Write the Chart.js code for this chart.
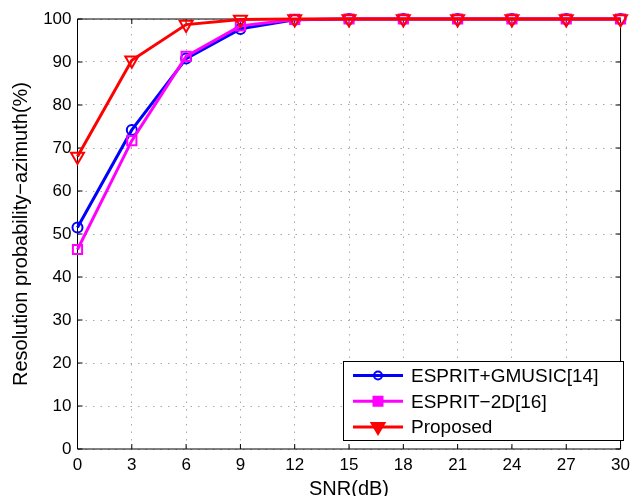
<!DOCTYPE html>
<html>
<head>
<meta charset="utf-8">
<script src="https://cdn.jsdelivr.net/npm/chart.js@4/dist/chart.umd.min.js"></script>
<style>
  html, body { margin: 0; background: #fff; }
  #wrap { width: 636px; height: 496px; }
</style>
</head>
<body>
<div id="wrap"><canvas id="chart"></canvas></div>
<script>
const snr = [0, 3, 6, 9, 12, 15, 18, 21, 24, 27, 30];
const espritGmusic = [51.5, 74.2, 90.8, 97.7, 99.8, 100, 100, 100, 100, 100, 100];
const esprit2d = [46.4, 71.7, 91.3, 98.4, 99.9, 100, 100, 100, 100, 100, 100];
const proposed = [68.0, 90.4, 98.7, 99.9, 100, 100, 100, 100, 100, 100, 100];
const seriesNames = ["ESPRIT+GMUSIC[14]", "ESPRIT\u22122D[16]", "Proposed"];
const xTicks = [0, 3, 6, 9, 12, 15, 18, 21, 24, 27, 30];
const yTicks = [0, 10, 20, 30, 40, 50, 60, 70, 80, 90, 100];

const FONT = "'Liberation Sans', Arial, Helvetica, sans-serif";

function pts(ys) {
  return snr.map((x, i) => ({ x: x, y: ys[i] }));
}

// box round the axes with inward tick marks on all four sides
const frame = {
  id: "frame",
  beforeDatasetsDraw(chart) {
    const { ctx, chartArea: a, scales } = chart;
    const len = 5;
    ctx.save();
    ctx.strokeStyle = "#000";
    ctx.lineWidth = 1;
    ctx.beginPath();
    ctx.rect(a.left, a.top, a.right - a.left, a.bottom - a.top);
    xTicks.forEach((v) => {
      const px = scales.x.getPixelForValue(v);
      ctx.moveTo(px, a.bottom);
      ctx.lineTo(px, a.bottom - len);
      ctx.moveTo(px, a.top);
      ctx.lineTo(px, a.top + len);
    });
    yTicks.forEach((v) => {
      const py = scales.y.getPixelForValue(v);
      ctx.moveTo(a.left, py);
      ctx.lineTo(a.left + len, py);
      ctx.moveTo(a.right, py);
      ctx.lineTo(a.right - len, py);
    });
    ctx.stroke();
    ctx.restore();
  },
};

function drawMarker(ctx, style, x, y, color, filled) {
  ctx.beginPath();
  if (style === "circle") {
    ctx.arc(x, y, 4, 0, Math.PI * 2);
  } else if (style === "rect") {
    ctx.rect(x - 4.5, y - 4.5, 9, 9);
  } else {
    ctx.moveTo(x - 6.5, y - 4);
    ctx.lineTo(x + 6.5, y - 4);
    ctx.lineTo(x, y + 7);
    ctx.closePath();
  }
  if (filled) {
    ctx.fillStyle = color;
    ctx.fill();
  }
  ctx.strokeStyle = color;
  ctx.lineWidth = 2;
  ctx.stroke();
}

// legend box in the lower right corner of the plot
const boxLegend = {
  id: "boxLegend",
  afterDatasetsDraw(chart, args, opts) {
    const { ctx } = chart;
    const x0 = 343, y0 = 361, w = 280, h = 79;
    ctx.save();
    ctx.fillStyle = "#fff";
    ctx.fillRect(x0, y0, w, h);
    ctx.strokeStyle = "#000";
    ctx.lineWidth = 1;
    ctx.strokeRect(x0 + 0.5, y0 + 0.5, w, h);
    chart.data.datasets.forEach((ds, i) => {
      const y = y0 + 14.5 + i * 25.8;
      ctx.strokeStyle = ds.borderColor;
      ctx.lineWidth = 3;
      ctx.beginPath();
      ctx.moveTo(353, y);
      ctx.lineTo(403, y);
      ctx.stroke();
      drawMarker(ctx, ds.pointStyle, 378, y, ds.borderColor, opts.filled[i]);
      ctx.fillStyle = "#000";
      ctx.font = "19px " + FONT;
      ctx.textBaseline = "middle";
      ctx.textAlign = "left";
      ctx.fillText(ds.label, 411, y + 1);
    });
    ctx.restore();
  },
};

new Chart(document.getElementById("chart"), {
  type: "line",
  data: {
    datasets: [
      {
        label: seriesNames[0],
        data: pts(espritGmusic),
        borderColor: "#0000ff",
        borderWidth: 3,
        pointStyle: "circle",
        pointRadius: 5,
        pointBorderWidth: 2,
        pointBackgroundColor: "rgba(0,0,0,0)",
        order: 3,
        clip: false,
      },
      {
        label: seriesNames[1],
        data: pts(esprit2d),
        borderColor: "#ff00ff",
        borderWidth: 3,
        pointStyle: "rect",
        pointRadius: 6.5,
        pointBorderWidth: 2,
        pointBackgroundColor: "rgba(0,0,0,0)",
        order: 2,
        clip: false,
      },
      {
        label: seriesNames[2],
        data: pts(proposed),
        borderColor: "#ff0000",
        borderWidth: 3,
        pointStyle: "triangle",
        pointRotation: 180,
        pointRadius: 7.5,
        pointBorderWidth: 2,
        pointBackgroundColor: "rgba(0,0,0,0)",
        order: 1,
        clip: false,
      },
    ],
  },
  options: {
    responsive: true,
    maintainAspectRatio: false,
    animation: false,
    layout: { padding: { top: 19, right: 8, left: 0, bottom: 0 } },
    plugins: {
      legend: { display: false },
      tooltip: { enabled: false },
      boxLegend: { filled: [false, true, true] },
    },
    elements: { line: { tension: 0 } },
    scales: {
      x: {
        type: "linear",
        min: 0,
        max: 30,
        afterBuildTicks: (s) => { s.ticks = xTicks.map((v) => ({ value: v })); },
        afterFit: (s) => { s.height = 47; },
        ticks: { color: "#000", font: { family: FONT, size: 17 }, padding: 6, maxRotation: 0, autoSkip: false },
        grid: { color: "#a8a8a8", lineWidth: 1, drawTicks: false },
        border: { display: false, dash: [1.5, 6] },
        title: {
          display: true,
          text: "SNR(dB)",
          color: "#000",
          font: { family: FONT, size: 20 },
          padding: { top: 0, bottom: -5 },
        },
      },
      y: {
        min: 0,
        max: 100,
        afterBuildTicks: (s) => { s.ticks = yTicks.map((v) => ({ value: v })); },
        afterFit: (s) => { s.width = 77.5; },
        ticks: { color: "#000", font: { family: FONT, size: 17 }, padding: 6 },
        grid: { color: "#a8a8a8", lineWidth: 1, drawTicks: false },
        border: { display: false, dash: [1.5, 6] },
        title: {
          display: true,
          text: "Resolution probability\u2212azimuth(%)",
          color: "#000",
          font: { family: FONT, size: 20 },
          padding: { top: 9, bottom: 0 },
        },
      },
    },
  },
  plugins: [frame, boxLegend],
});
</script>
</body>
</html>
